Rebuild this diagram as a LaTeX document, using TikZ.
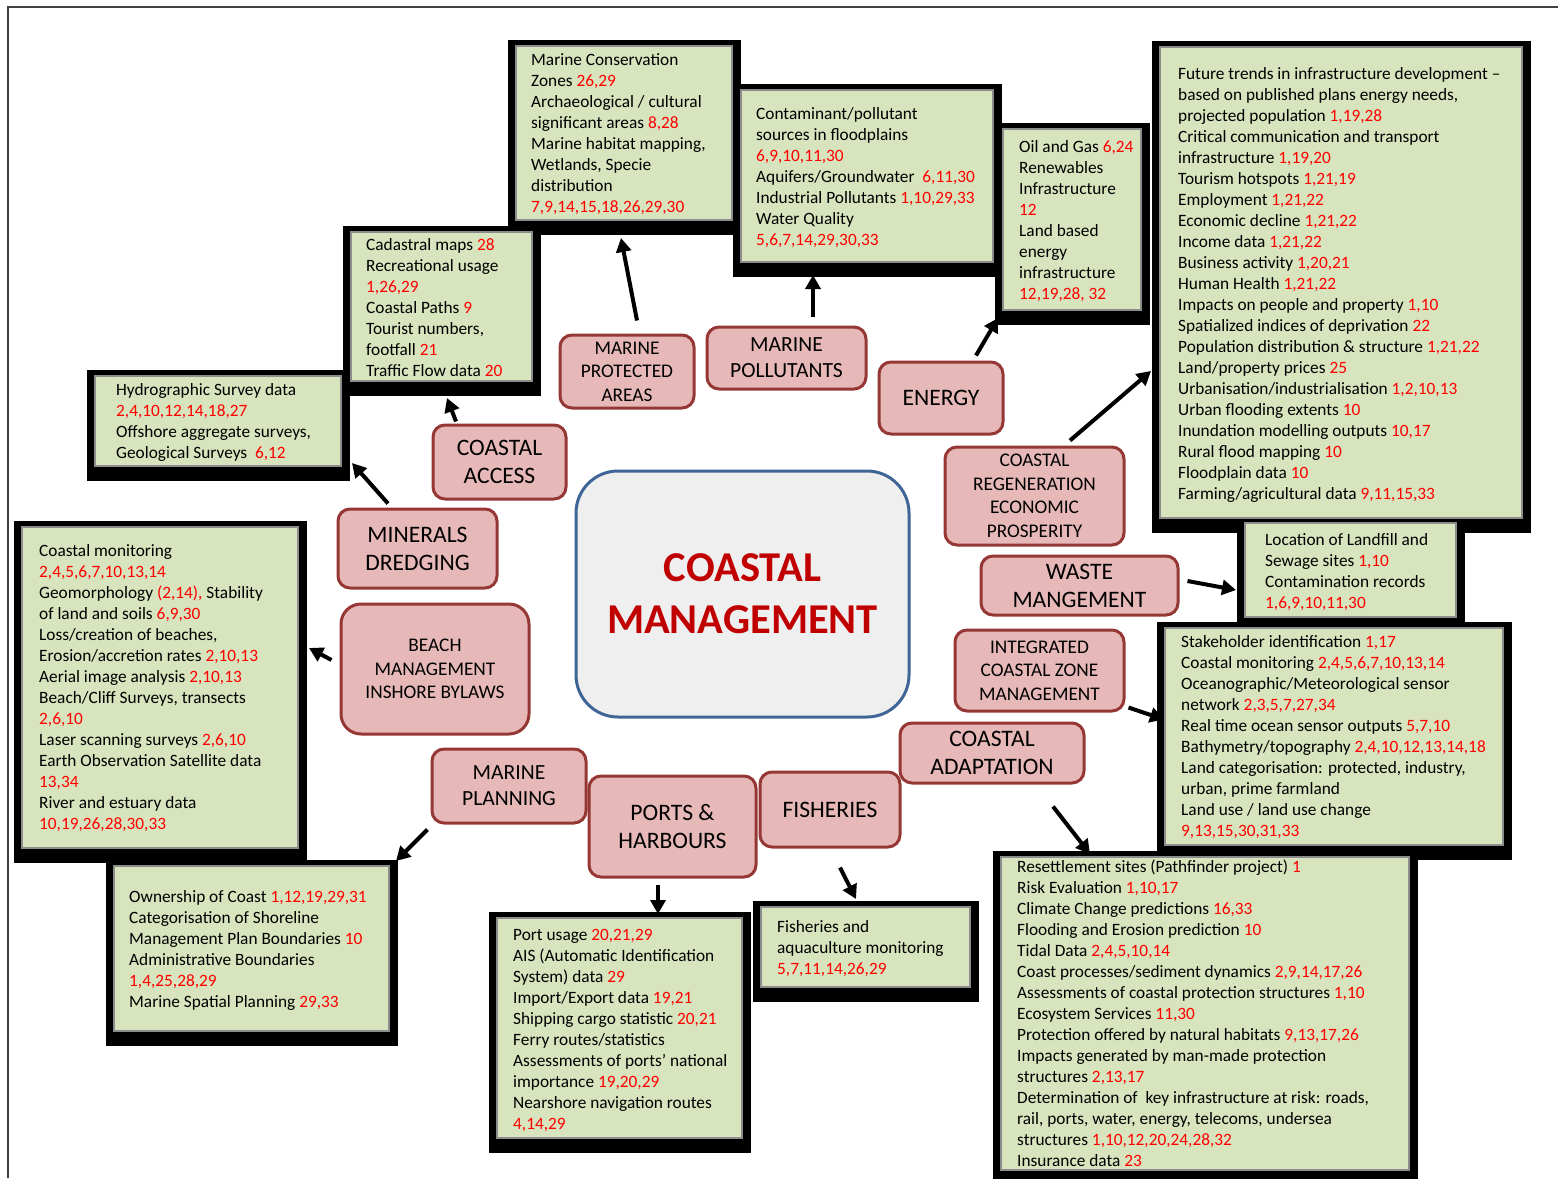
\documentclass[tikz,border=0pt]{standalone}
\usepackage{fontspec}
\setmainfont{Carlito}
\usetikzlibrary{arrows.meta,backgrounds}

\definecolor{greenfill}{HTML}{D7E4BD}
\definecolor{greenline}{HTML}{8C8C8C}
\definecolor{pinkfill}{HTML}{E6B9B8}
\definecolor{pinkline}{HTML}{953735}
\definecolor{hubfill}{HTML}{EFEFEF}
\definecolor{hubline}{HTML}{3F6597}
\definecolor{titlered}{HTML}{C00000}
\definecolor{refred}{HTML}{FF0000}

\newcommand{\nums}[1]{\textcolor{refred}{#1}}

\tikzset{
  gbox/.style={fill=greenfill, draw=greenline, line width=2pt, inner sep=0pt},
  gtext/.style={anchor=west, align=left, inner sep=0pt, font=\fontsize{17.3pt}{21pt}\selectfont},
  pbox/.style={rounded corners=12pt, fill=pinkfill, draw=pinkline, line width=3pt, align=center, inner sep=0pt},
  psmall/.style={font=\fontsize{19.3pt}{23.5pt}\selectfont},
  pmid/.style={font=\fontsize{21.6pt}{26pt}\selectfont},
  plarge/.style={font=\fontsize{23.6pt}{28pt}\selectfont},
  hub/.style={rounded corners=42pt, fill=hubfill, draw=hubline, line width=3pt, align=center,
    text=titlered, font=\bfseries\fontsize{42.5pt}{52pt}\selectfont},
  arr/.style={line width=4pt, -{Triangle[length=14pt,width=15pt]}}
}

\begin{document}
\begin{tikzpicture}[x=1pt,y=-1pt]
  \useasboundingbox (0,0) rectangle (1558,1178);
  \draw[black!75, line width=1.5pt] (8,1178) -- (8,7) -- (1558,7);

  % data boxes
  \node[gbox, minimum width=216pt, minimum height=174pt] (cons) at (624,133) {};
  \node[gbox, minimum width=252pt, minimum height=172pt] (poll) at (867,176) {};
  \node[gbox, minimum width=138pt, minimum height=181pt] (enerdat) at (1072,219.5) {};
  \node[gbox, minimum width=362pt, minimum height=471pt] (regendat) at (1341,282.5) {};
  \node[gbox, minimum width=181pt, minimum height=149pt] (accdat) at (441.5,306.5) {};
  \node[gbox, minimum width=246pt, minimum height=90pt] (hydro) at (218,421) {};
  \node[gbox, minimum width=276pt, minimum height=321pt] (mon) at (160,687.5) {};
  \node[gbox, minimum width=275pt, minimum height=165pt] (own) at (251.5,948.5) {};
  \node[gbox, minimum width=245pt, minimum height=220pt] (port) at (619.5,1028) {};
  \node[gbox, minimum width=209pt, minimum height=80pt] (fishdat) at (865.5,947) {};
  \node[gbox, minimum width=211pt, minimum height=94pt] (wastedat) at (1350.5,570) {};
  \node[gbox, minimum width=408pt, minimum height=313pt] (adaptdat) at (1205,1013.5) {};
  \node[gbox, minimum width=338pt, minimum height=217pt] (iczmdat) at (1334,736.5) {};

  \begin{scope}[on background layer]
    \foreach \n in {cons,poll,enerdat,regendat,accdat,hydro,mon,own,port,fishdat,wastedat,adaptdat,iczmdat}
      \fill[black] ([shift={(-7,-5)}]\n.north west) rectangle ([shift={(8,14)}]\n.south east);
  \end{scope}

  \node[gtext] (cons text) at ([xshift=16pt,yshift=-1pt]cons.west) {Marine Conservation\\
    Zones \nums{26,29}\\
    Archaeological / cultural\\
    significant areas \nums{8,28}\\
    Marine habitat mapping,\\
    Wetlands, Specie\\
    distribution\\
    \nums{7,9,14,15,18,26,29,30}};
  \node[gtext] (poll text) at ([xshift=16pt,yshift=-2pt]poll.west) {Contaminant/pollutant\\
    sources in floodplains\\
    \nums{6,9,10,11,30}\\
    Aquifers/Groundwater\ \ \nums{6,11,30}\\
    Industrial Pollutants \nums{1,10,29,33}\\
    Water Quality\\
    \nums{5,6,7,14,29,30,33}};
  \node[gtext] (enerdat text) at ([xshift=17pt,yshift=-2pt]enerdat.west) {Oil and Gas \nums{6,24}\\
    Renewables\\
    Infrastructure\\
    \nums{12}\\
    Land based\\
    energy\\
    infrastructure\\
    \nums{12,19,28, 32}};
  \node[gtext] (regendat text) at ([xshift=19pt,yshift=-2pt]regendat.west) {Future trends in infrastructure development --\\
    based on published plans energy needs,\\
    projected population \nums{1,19,28}\\
    Critical communication and transport\\
    infrastructure \nums{1,19,20}\\
    Tourism hotspots \nums{1,21,19}\\
    Employment \nums{1,21,22}\\
    Economic decline \nums{1,21,22}\\
    Income data \nums{1,21,22}\\
    Business activity \nums{1,20,21}\\
    Human Health \nums{1,21,22}\\
    Impacts on people and property \nums{1,10}\\
    Spatialized indices of deprivation \nums{22}\\
    Population distribution \& structure \nums{1,21,22}\\
    Land/property prices \nums{25}\\
    Urbanisation/industrialisation \nums{1,2,10,13}\\
    Urban flooding extents \nums{10}\\
    Inundation modelling outputs \nums{10,17}\\
    Rural flood mapping \nums{10}\\
    Floodplain data \nums{10}\\
    Farming/agricultural data \nums{9,11,15,33}};
  \node[gtext] (accdat text) at ([xshift=16pt,yshift=-1pt]accdat.west) {Cadastral maps \nums{28}\\
    Recreational usage\\
    \nums{1,26,29}\\
    Coastal Paths \nums{9}\\
    Tourist numbers,\\
    footfall \nums{21}\\
    Traffic Flow data \nums{20}};
  \node[gtext] (hydro text) at ([xshift=22pt,yshift=-1pt]hydro.west) {Hydrographic Survey data\\
    \nums{2,4,10,12,14,18,27}\\
    Offshore aggregate surveys,\\
    Geological Surveys\ \ \nums{6,12}};
  \node[gtext] (mon text) at ([xshift=18pt,yshift=-1pt]mon.west) {Coastal monitoring\\
    \nums{2,4,5,6,7,10,13,14}\\
    Geomorphology \nums{(2,14),} Stability\\
    of land and soils \nums{6,9,30}\\
    Loss/creation of beaches,\\
    Erosion/accretion rates \nums{2,10,13}\\
    Aerial image analysis \nums{2,10,13}\\
    Beach/Cliff Surveys, transects\\
    \nums{2,6,10}\\
    Laser scanning surveys \nums{2,6,10}\\
    Earth Observation Satellite data\\
    \nums{13,34}\\
    River and estuary data\\
    \nums{10,19,26,28,30,33}};
  \node[gtext] (own text) at ([xshift=16pt,yshift=-2pt]own.west) {Ownership of Coast \nums{1,12,19,29,31}\\
    Categorisation of Shoreline\\
    Management Plan Boundaries \nums{10}\\
    Administrative Boundaries\\
    \nums{1,4,25,28,29}\\
    Marine Spatial Planning \nums{29,33}};
  \node[gtext] (port text) at ([xshift=17pt,yshift=-2pt]port.west) {Port usage \nums{20,21,29}\\
    AIS (Automatic Identification\\
    System) data \nums{29}\\
    Import/Export data \nums{19,21}\\
    Shipping cargo statistic \nums{20,21}\\
    Ferry routes/statistics\\
    Assessments of ports’ national\\
    importance \nums{19,20,29}\\
    Nearshore navigation routes\\
    \nums{4,14,29}};
  \node[gtext] (fishdat text) at ([xshift=17pt,yshift=-2pt]fishdat.west) {Fisheries and\\
    aquaculture monitoring\\
    \nums{5,7,11,14,26,29}};
  \node[gtext] (wastedat text) at ([xshift=21pt,yshift=-2pt]wastedat.west) {Location of Landfill and\\
    Sewage sites \nums{1,10}\\
    Contamination records\\
    \nums{1,6,9,10,11,30}};
  \node[gtext] (iczmdat text) at ([xshift=17pt,yshift=-1pt]iczmdat.west) {Stakeholder identification \nums{1,17}\\
    Coastal monitoring \nums{2,4,5,6,7,10,13,14}\\
    Oceanographic/Meteorological sensor\\
    network \nums{2,3,5,7,27,34}\\
    Real time ocean sensor outputs \nums{5,7,10}\\
    Bathymetry/topography \nums{2,4,10,12,13,14,18}\\
    Land categorisation: protected, industry,\\
    urban, prime farmland\\
    Land use / land use change\\
    \nums{9,13,15,30,31,33}};
  \node[gtext] (adaptdat text) at ([xshift=17pt]adaptdat.west) {Resettlement sites (Pathfinder project) \nums{1}\\
    Risk Evaluation \nums{1,10,17}\\
    Climate Change predictions \nums{16,33}\\
    Flooding and Erosion prediction \nums{10}\\
    Tidal Data \nums{2,4,5,10,14}\\
    Coast processes/sediment dynamics \nums{2,9,14,17,26}\\
    Assessments of coastal protection structures \nums{1,10}\\
    Ecosystem Services \nums{11,30}\\
    Protection offered by natural habitats \nums{9,13,17,26}\\
    Impacts generated by man-made protection\\
    structures \nums{2,13,17}\\
    Determination of\ \ key infrastructure at risk: roads,\\
    rail, ports, water, energy, telecoms, undersea\\
    structures \nums{1,10,12,20,24,28,32}\\
    Insurance data \nums{23}};

  % sectors
  \node[hub, minimum width=333pt, minimum height=246pt] (hub) at (742.5,594) {COASTAL\\MANAGEMENT};
  \node[pbox, psmall, minimum width=134pt, minimum height=73pt] (mpa) at (627,371.5) {MARINE\\PROTECTED\\AREAS};
  \node[pbox, pmid, minimum width=159pt, minimum height=62pt] (mpol) at (786.5,358) {MARINE\\POLLUTANTS};
  \node[pbox, plarge, minimum width=124pt, minimum height=72pt] (ener) at (941,398) {ENERGY};
  \node[pbox, psmall, minimum width=179pt, minimum height=98pt] (regen) at (1034.5,496) {COASTAL\\REGENERATION\\ECONOMIC\\PROSPERITY};
  \node[pbox, plarge, minimum width=197pt, minimum height=59pt] (waste) at (1079.5,585.5) {WASTE\\MANGEMENT};
  \node[pbox, psmall, minimum width=169pt, minimum height=81pt] (iczm) at (1039.5,670.5) {INTEGRATED\\COASTAL ZONE\\MANAGEMENT};
  \node[pbox, plarge, minimum width=184pt, minimum height=60pt] (cadapt) at (992,753) {COASTAL\\ADAPTATION};
  \node[pbox, plarge, minimum width=140pt, minimum height=75pt] (fish) at (830,809.5) {FISHERIES};
  \node[pbox, plarge, minimum width=167pt, minimum height=101pt] (ports) at (672.5,826.5) {PORTS \&\\HARBOURS};
  \node[pbox, pmid, minimum width=154pt, minimum height=74pt] (mplan) at (509,786) {MARINE\\PLANNING};
  \node[pbox, psmall, rounded corners=20pt, minimum width=188pt, minimum height=130pt] (beach) at (435,669) {BEACH\\MANAGEMENT\\INSHORE BYLAWS};
  \node[pbox, plarge, minimum width=159pt, minimum height=79pt] (miner) at (417.5,548.5) {MINERALS\\DREDGING};
  \node[pbox, plarge, minimum width=133pt, minimum height=74pt] (acc) at (499.5,462) {COASTAL\\ACCESS};

  % links
  \draw[arr] ([xshift=10pt,yshift=13pt]mpa.north) -- ([xshift=-3pt,yshift=-17pt]cons.south);
  \draw[arr] ([xshift=26.5pt,yshift=9pt]mpol.north) -- ([xshift=-54pt,yshift=-12pt]poll.south);
  \draw[arr] ([xshift=35pt,yshift=5pt]ener.north) -- ([xshift=-4pt,yshift=-7pt]enerdat.south west);
  \draw[arr] ([xshift=35.5pt,yshift=5pt]regen.north) -- ([xshift=-8pt,yshift=-88.5pt]regendat.west);
  \draw[arr] ([xshift=8pt,yshift=4.5pt]waste.east) -- ([xshift=-8pt,yshift=-20pt]wastedat.west);
  \draw[arr] ([xshift=3pt,yshift=5pt]iczm.south east) -- ([xshift=0pt,yshift=17pt]iczmdat.west);
  \draw[arr] ([xshift=61pt,yshift=-22pt]cadapt.south) -- ([xshift=-115pt,yshift=2pt]adaptdat.north);
  \draw[arr] ([xshift=10pt,yshift=-19pt]fish.south) -- ([xshift=-9.5pt,yshift=7pt]fishdat.north);
  \draw[arr] ([xshift=-14.5pt,yshift=-6pt]ports.south) -- ([xshift=38.5pt,yshift=3pt]port.north);
  \draw[arr] ([xshift=-3pt,yshift=-5pt]mplan.south west) -- ([xshift=6pt,yshift=4pt]own.north east);
  \draw[arr] ([xshift=-8pt,yshift=9pt]beach.west) -- ([xshift=10pt,yshift=39.5pt]mon.east);
  \draw[arr] ([xshift=-29.5pt,yshift=4pt]miner.north) -- ([xshift=10pt,yshift=4pt]hydro.south east);
  \draw[arr] ([xshift=-43.5pt,yshift=2pt]acc.north) -- ([xshift=5.5pt,yshift=-16pt]accdat.south);
\end{tikzpicture}
\end{document}
